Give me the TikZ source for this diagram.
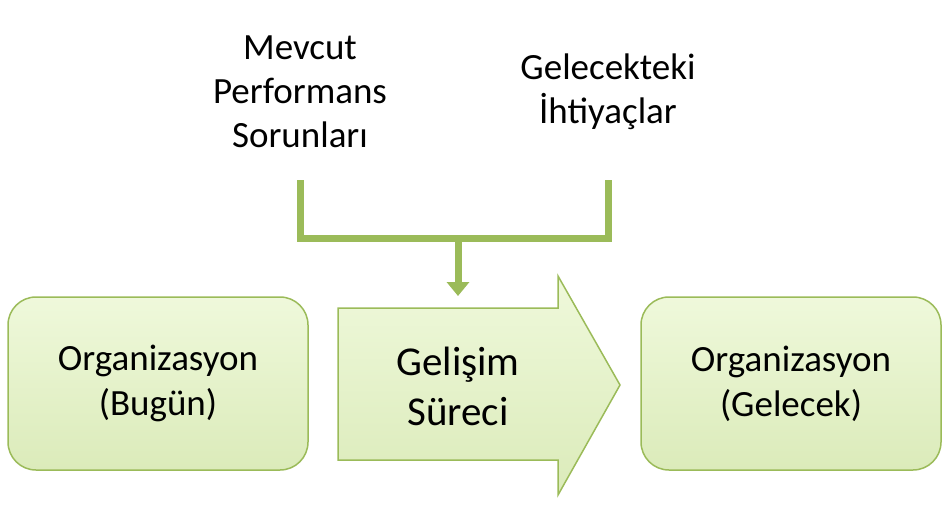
\documentclass[tikz,border=0pt]{standalone}
\usepackage{fontspec}
\setmainfont{Carlito}
\usetikzlibrary{arrows.meta,positioning}
\definecolor{leaf}{HTML}{9BBB59}
\definecolor{pale}{HTML}{EBF7D2}
\tikzset{
    box/.style={draw=leaf,line width=1.5pt,rounded corners=28pt,minimum width=300pt,minimum height=173pt,
        top color=pale!80!white,bottom color=pale!60!leaf!50!pale,font=\fontsize{37}{45}\selectfont,align=center},
    cause/.style={font=\fontsize{37}{44}\selectfont,align=center},
    feed/.style={draw=leaf,line width=7pt}
}
\begin{document}
\begin{tikzpicture}[x=1pt,y=-1pt]
    \useasboundingbox (0,0) rectangle (949,508);
    % boxes
    \node[box] (now) at (158,383.5) {Organizasyon\\(Bugün)};
    \node[box] (next) at (791,383.5) {Organizasyon\\(Gelecek)};
    % process arrow
    \draw[leaf,line width=1.5pt,line join=miter,top color=pale!80!white,bottom color=pale!60!leaf!50!pale]
        (338,308) -- (558,308) -- (558,276) -- (620,385) -- (558,495) -- (558,460) -- (338,460) -- cycle;
    \node[font=\fontsize{41}{50}\selectfont,align=center] (dev) at (458,386) {Gelişim\\Süreci};
    % causes
    \node[cause] (perf) at (300,92) {Mevcut\\Performans\\Sorunları};
    \node[cause] (need) at (608,92) {Gelecekteki\\İhtiyaçlar};
    \coordinate (pa) at (300,180);
    \coordinate (na) at (608,180);
    \coordinate (mid) at (458,238);
    \draw[feed,line join=miter] (pa) |- (mid) -| (na);
    \draw[feed,-{Triangle[length=14pt,width=22pt]}] (mid) -- (458,296);
\end{tikzpicture}
\end{document}
